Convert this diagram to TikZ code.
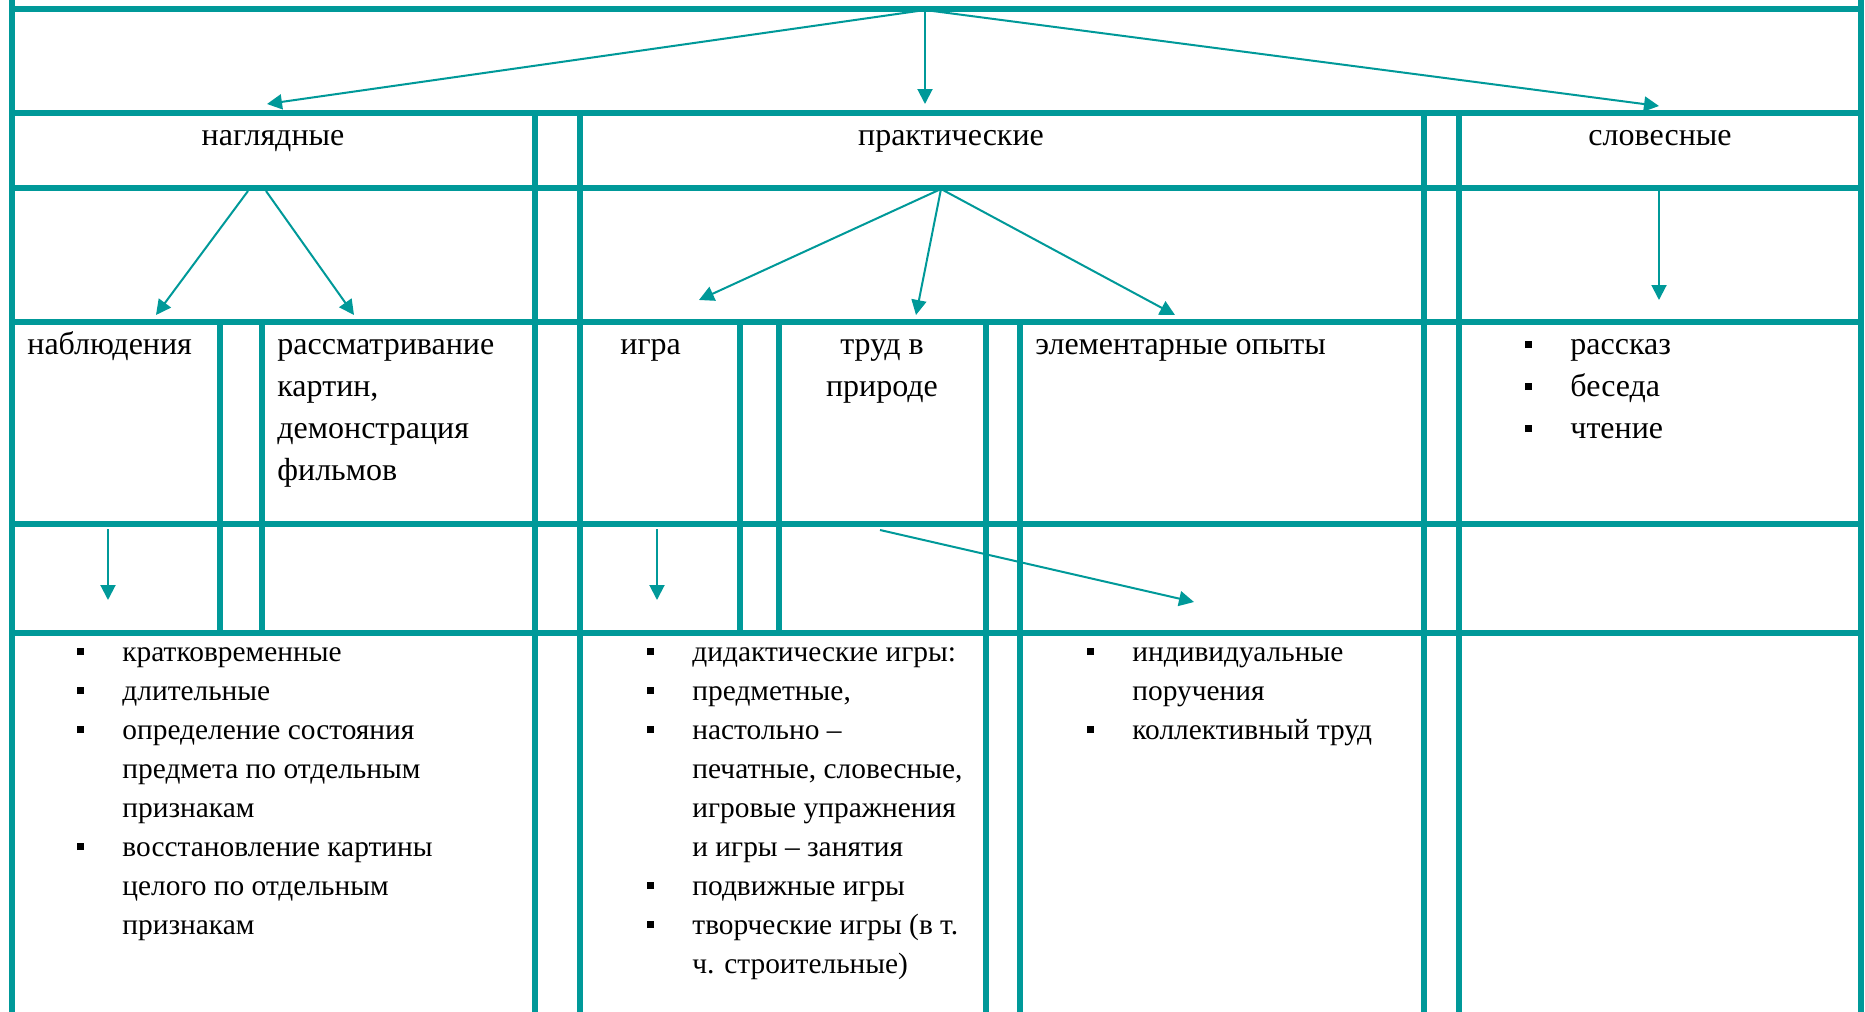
\documentclass[tikz,border=0pt]{standalone}
\usepackage{fontspec}
\setmainfont{Liberation Serif}
\usetikzlibrary{arrows.meta}
\definecolor{tableteal}{RGB}{0,153,153}
\newcommand{\listmark}{\llap{\rule[3pt]{3.5pt}{3.5pt}\hspace{19pt}}}
\begin{document}
\begin{tikzpicture}[x=0.5pt,y=-0.5pt,
	grid_line/.style={draw=tableteal,line width=3pt},
	link_arrow/.style={draw=tableteal,line width=1pt,-{Triangle[length=7.5pt,width=7.5pt]}},
	head_text/.style={anchor=base,inner sep=0pt,font=\fontsize{16}{21}\selectfont},
	cell_text/.style={anchor=base west,inner sep=0pt,align=left,font=\fontsize{16}{21}\selectfont},
	list_text/.style={anchor=base west,inner sep=0pt,align=left,font=\fontsize{14.7}{19.5}\selectfont}]

		\useasboundingbox (0,0) rectangle (1865,1012);

		% table lines
		\foreach \y in {9,113,188,322,524,633}
			\draw[grid_line] (9,\y) -- (1864,\y);
		\foreach \x in {12,1861}
			\draw[grid_line] (\x,0) -- (\x,1012);
		\foreach \x in {535,580,1424,1459}
			\draw[grid_line] (\x,113) -- (\x,1012);
		\foreach \x in {220,262,740,779}
			\draw[grid_line] (\x,322) -- (\x,633);
		\foreach \x in {986,1020}
			\draw[grid_line] (\x,322) -- (\x,1012);

		% headings
		\node[head_text] (nagl_head) at (273,145) {наглядные};
		\node[head_text] (prak_head) at (951,145) {практические};
		\node[head_text] (slov_head) at (1660,145) {словесные};

		% multi-line nodes sit on their last line
		\node[cell_text] (nabl) at (27,354) {наблюдения};
		\node[cell_text] (rassm) at (277,480) {рассматривание\\картин,\\демонстрация\\фильмов};
		\node[cell_text] (igra) at (620,354) {игра};
		\node[head_text,align=center] (trud) at (882,396) {труд в\\природе};
		\node[cell_text] (opyty) at (1035,354) {элементарные опыты};
		\node[cell_text] (slov_list) at (1570,438) {\listmark рассказ\\\listmark беседа\\\listmark чтение};

		\node[list_text] (nabl_list) at (122,934) {\listmark кратковременные\\\listmark длительные\\\listmark определение состояния\\предмета по отдельным\\признакам\\\listmark восстановление картины\\целого по отдельным\\признакам};
		\node[list_text] (igra_list) at (692,973) {\listmark дидактические игры:\\\listmark предметные,\\\listmark настольно --\\печатные, словесные,\\игровые упражнения\\и игры -- занятия\\\listmark подвижные игры\\\listmark творческие игры (в т.\\ч. строительные)};
		\node[list_text] (trud_list) at (1132,739) {\listmark индивидуальные\\поручения\\\listmark коллективный труд};

		% arrow ends
		\coordinate (top_src) at (925,10);
		\coordinate (nagl_end) at (267,104);
		\coordinate (prak_end) at (925,104);
		\coordinate (slov_end) at (1659,106);
		\coordinate (nagl_src_a) at (248,191);
		\coordinate (nagl_src_b) at (266,191);
		\coordinate (nabl_end) at (156,315);
		\coordinate (rassm_end) at (354,315);
		\coordinate (prak_src) at (941,189);
		\coordinate (igra_end) at (699,300);
		\coordinate (trud_end) at (916,315);
		\coordinate (opyty_end) at (1175,315);
		\coordinate (slov_src) at (1659,191);
		\coordinate (slov_list_end) at (1659,300);
		\coordinate (nabl_src) at (108,529);
		\coordinate (nabl_list_end) at (108,600);
		\coordinate (igra_src) at (657,529);
		\coordinate (igra_list_end) at (657,600);
		\coordinate (trud_src) at (880,530);
		\coordinate (trud_list_end) at (1194,602);

		\draw[link_arrow] (top_src) -- (nagl_end);
		\draw[link_arrow] (top_src) -- (prak_end);
		\draw[link_arrow] (top_src) -- (slov_end);

		\draw[link_arrow] (nagl_src_a) -- (nabl_end);
		\draw[link_arrow] (nagl_src_b) -- (rassm_end);

		\draw[link_arrow] (prak_src) -- (igra_end);
		\draw[link_arrow] (prak_src) -- (trud_end);
		\draw[link_arrow] (prak_src) -- (opyty_end);

		\draw[link_arrow] (slov_src) -- (slov_list_end);

		\draw[link_arrow] (nabl_src) -- (nabl_list_end);
		\draw[link_arrow] (igra_src) -- (igra_list_end);
		\draw[link_arrow] (trud_src) -- (trud_list_end);
\end{tikzpicture}
\end{document}
